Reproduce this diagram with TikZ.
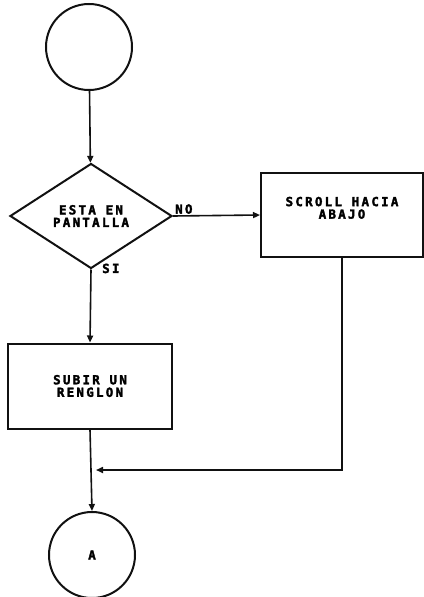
\documentclass[tikz,border=0pt]{standalone}
\usepackage{fontspec}
\newfontfamily\plotfont[LetterSpace=18, FakeBold=2.5]{DejaVu Sans Mono Bold}
\usetikzlibrary{arrows.meta, positioning, shapes.geometric}
\definecolor{flowink}{HTML}{111111}
\tikzset{
  term/.style={circle, draw=flowink, line width=2pt, minimum size=86pt, inner sep=0pt,
    font=\plotfont\fontsize{12.5}{12.5}\selectfont},
  decision/.style={diamond, draw=flowink, line width=2pt, minimum width=162pt, minimum height=105pt,
    inner sep=0pt, align=center, font=\plotfont\fontsize{12.5}{12.5}\selectfont},
  procbox/.style={rectangle, draw=flowink, line width=2pt, minimum width=164pt, minimum height=85pt,
    align=center, font=\plotfont\fontsize{12.5}{12.5}\selectfont},
  lbl/.style={inner sep=1pt, font=\plotfont\fontsize{12.5}{12.5}\selectfont},
  arr/.style={-{Triangle[length=7pt, width=6pt]}, line width=1.6pt, flowink},
}

\begin{document}
\begin{tikzpicture}[x=1pt, y=-1pt]
    \useasboundingbox (0,0) rectangle (423,597);
    % Inicio
    \node[term] (start) at (89,47) {};
    % Pregunta
    \node[decision] (pant) at (91,216) {ESTA EN\\PANTALLA};
    % Procesos
    \node[procbox, minimum width=162pt, minimum height=84pt] (scroll) at (342,215) {SCROLL HACIA\\ABAJO\\[2pt]};
    \node[procbox] (subir) at (90,386) {SUBIR UN\\RENGLON};
    % Conector
    \node[term] (conA) at (92,555) {A};
    \coordinate (join) at (96,470);

    \node[lbl, above right=1pt and 1pt of pant.east] (no) {NO};
    \node[lbl, below right=-7pt and 10pt of pant.south] (si) {SI};

    \draw[arr] (start) -- (pant);
    \draw[arr] (pant.east) -- (scroll.west);
    \draw[arr] (pant.south) -- (subir.north);
    \draw[arr] (subir.south) -- (conA.north);
    \draw[arr] (scroll.south) |- (join);
  \end{tikzpicture}
\end{document}
